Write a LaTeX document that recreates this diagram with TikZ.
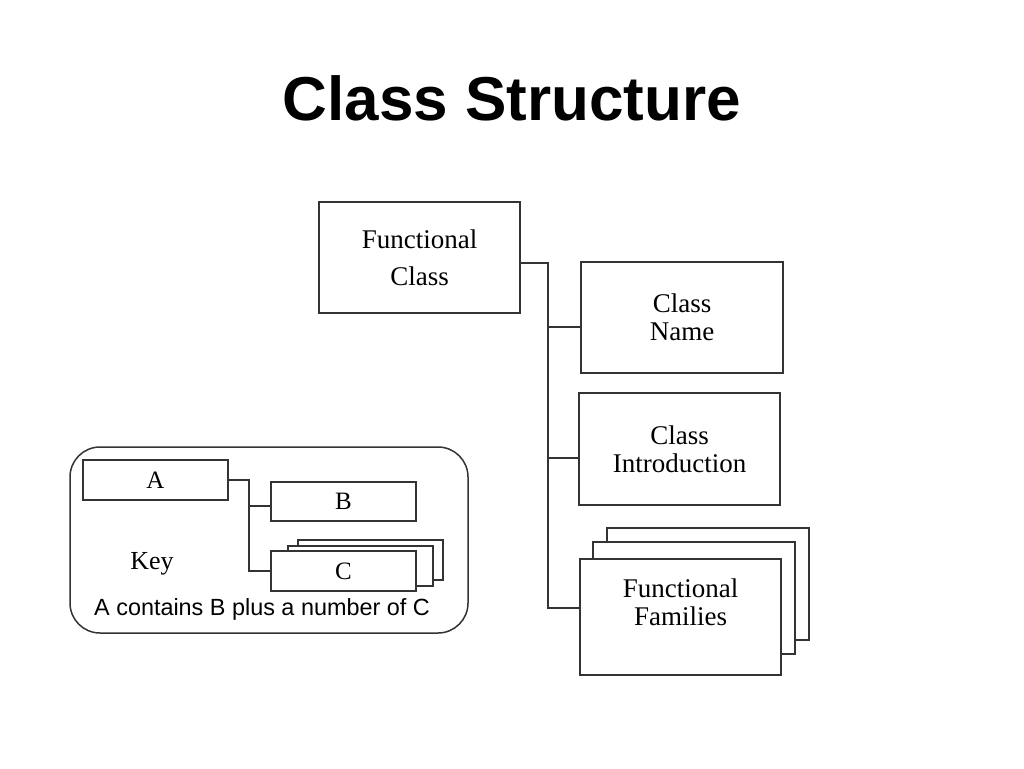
\documentclass[tikz,border=0pt]{standalone}
\usepackage{fontspec}
\setmainfont{Liberation Serif}
\setsansfont{Liberation Sans}
\usepackage{tikz}
\usetikzlibrary{positioning}

\begin{document}
\begin{tikzpicture}[x=1pt,y=-1pt,
    conn/.style={draw=black!80, line width=1.5pt},
    box/.style={rectangle, conn, fill=white, align=center, inner sep=0pt, font=\fontsize{27}{28}\selectfont},
    keyitem/.style={box, minimum width=145pt, minimum height=40pt, font=\fontsize{25}{28}\selectfont}]
    \useasboundingbox (0,0) rectangle (1024,768);

    \node[font=\sffamily\bfseries\fontsize{62}{70}\selectfont] (title) at (512,98) {Class Structure};

    % main structure
    \node[box, minimum width=201pt, minimum height=111pt] (fclass) at (419.5,257.5) {Functional\\[9pt]Class};
    \node[box, minimum width=202pt, minimum height=111pt] (cname) at (682,317.5) {Class\\Name};
    \node[box, minimum width=201pt, minimum height=112pt] (cintro) at (679.5,449) {Class\\Introduction};
    \node[box, minimum width=202pt, minimum height=112pt] (families3) at (708,584) {};
    \node[box, minimum width=202pt, minimum height=112pt] (families2) at (694,598) {};
    \node[box, minimum width=201pt, minimum height=116pt] (families) at (680.5,617) {};
    \node[align=center, font=\fontsize{27}{28}\selectfont] (famtext) at ([yshift=15pt]families.center) {Functional\\Families};

    \draw[conn] (fclass.357) -- ++(27,0) coordinate (fork) |- ([yshift=9pt]families.west);
    \draw[conn] (fork) |- ([yshift=-9.5pt]cname.west);
    \draw[conn] (fork) |- ([yshift=-9pt]cintro.west);

    % key
    \node[rectangle, conn, rounded corners=30pt, minimum width=398pt, minimum height=186pt] (keyframe) at (269,540) {};
    \node[keyitem, fill=none] (keyA) at (155.5,480) {A};
    \node[keyitem, minimum height=39pt] (keyB) at (343.5,501.5) {B};
    \node[keyitem] (keyC3) at (370.5,560) {};
    \node[keyitem] (keyC2) at (360.5,566) {};
    \node[keyitem] (keyC) at (343.5,571) {C};

    \draw[conn] (keyA.east) -- ++(20,0) coordinate (keyfork) |- (keyC.west);
    \draw[conn] (keyfork) |- ([yshift=-4.5pt]keyB.west);

    \node[anchor=base, font=\fontsize{26}{28}\selectfont] (keylabel) at (152,569) {Key};
    \node[anchor=base, font=\sffamily\fontsize{23.4}{28}\selectfont] (keynote) at (262,615) {A contains B plus a number of C};

\end{tikzpicture}
\end{document}
